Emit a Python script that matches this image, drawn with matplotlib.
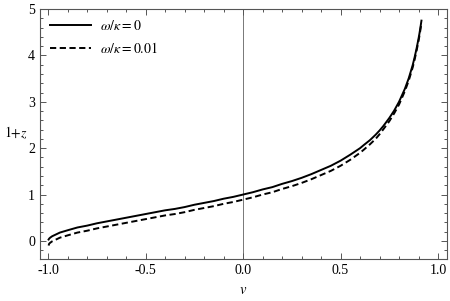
import matplotlib.pyplot as plt
from matplotlib.ticker import MultipleLocator

# values
v = [-0.998, -0.995, -0.99, -0.98, -0.96, -0.94, -0.9, -0.85, -0.8, -0.75,
     -0.7, -0.65, -0.6, -0.55, -0.5, -0.45, -0.4, -0.35, -0.3, -0.25,
     -0.2, -0.15, -0.1, -0.05, 0.0, 0.05, 0.1, 0.15, 0.2, 0.25, 0.3, 0.35,
     0.4, 0.45, 0.5, 0.55, 0.6, 0.62, 0.65, 0.68, 0.7, 0.72, 0.75, 0.775,
     0.8, 0.83, 0.85, 0.86, 0.87, 0.88, 0.89, 0.9, 0.905, 0.91, 0.915]
z_w0 = [0.03, 0.05, 0.07, 0.10, 0.14, 0.18, 0.23, 0.29, 0.33, 0.38,
        0.42, 0.46, 0.50, 0.54, 0.58, 0.62, 0.66, 0.69, 0.73, 0.78,
        0.82, 0.86, 0.91, 0.95, 1.00, 1.05, 1.11, 1.16, 1.23, 1.29, 1.36, 1.44,
        1.53, 1.62, 1.73, 1.86, 2.00, 2.07, 2.17, 2.29, 2.38, 2.48, 2.65, 2.81,
        3.00, 3.28, 3.51, 3.65, 3.79, 3.96, 4.15, 4.36, 4.48, 4.61, 4.75]
z_w001 = [-0.10, -0.06, -0.04, -0.01, 0.03, 0.07, 0.12, 0.18, 0.22, 0.27,
          0.31, 0.35, 0.39, 0.43, 0.47, 0.51, 0.55, 0.58, 0.62, 0.67,
          0.71, 0.75, 0.80, 0.84, 0.89, 0.94, 1.00, 1.05, 1.12, 1.18, 1.25, 1.33,
          1.42, 1.51, 1.62, 1.75, 1.90, 1.97, 2.08, 2.20, 2.30, 2.41, 2.58, 2.75,
          2.94, 3.23, 3.46, 3.60, 3.74, 3.91, 4.10, 4.31, 4.43, 4.56, 4.70]

plt.rcParams['font.family'] = ['Liberation Serif', 'DejaVu Serif']
plt.rcParams['mathtext.fontset'] = 'stix'

fig = plt.figure(figsize=(4.5, 3.01), dpi=100)
ax = fig.add_axes([0.0889, 0.1395, 0.9044, 0.8305])

ax.axvline(0, color='#777777', lw=0.7, zorder=1)
ax.plot(v, z_w0, color='black', lw=1.4, label=r'$\omega/\kappa=0$')
ax.plot(v, z_w001, color='black', lw=1.4, ls=(0, (3.2, 1.8)),
        label=r'$\omega/\kappa=0.01$')

ax.set_xlim(-1.042, 1.046)
ax.set_ylim(-0.39, 5.0)
ax.xaxis.set_major_locator(MultipleLocator(0.5))
ax.xaxis.set_minor_locator(MultipleLocator(0.1))
ax.yaxis.set_major_locator(MultipleLocator(1))
ax.yaxis.set_minor_locator(MultipleLocator(0.2))
ax.xaxis.set_major_formatter(plt.FormatStrFormatter('%.1f'))
ax.tick_params(which='both', direction='in', top=True, right=True,
               color='#555555', labelsize=10, width=0.7)
ax.tick_params(which='major', length=4)
ax.tick_params(which='minor', length=2.2)
for s in ax.spines.values():
    s.set_color('#555555')
    s.set_linewidth(0.8)

fig.text(0.035, 0.558, r'$1{+}z$', fontsize=10, ha='center', va='center')
fig.text(0.54, 0.035, r'$v$', fontsize=10.5, ha='center', va='center')

ax.legend(loc='upper left', frameon=False, fontsize=10, handlelength=3.0,
          borderaxespad=0.3, labelspacing=0.6, handletextpad=0.6)

fig.savefig('out.png', dpi=100)
